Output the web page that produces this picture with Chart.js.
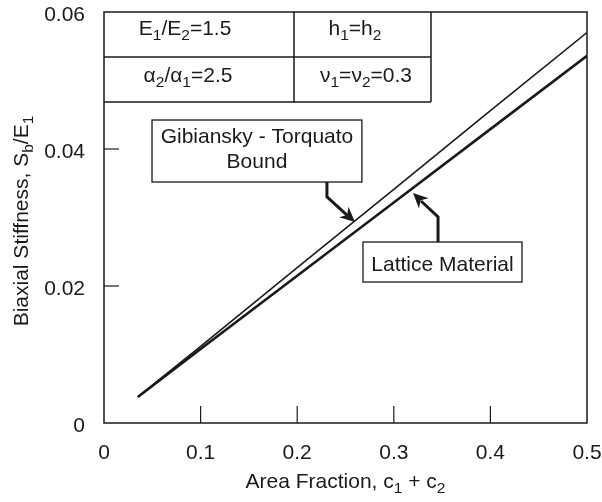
<!DOCTYPE html>
<html>
<head>
<meta charset="utf-8">
<script src="https://cdn.jsdelivr.net/npm/chart.js@4/dist/chart.umd.min.js"></script>
<style>
  body { margin: 0; background: #fff; }
  #wrap { width: 602px; height: 502px; }
</style>
</head>
<body>
<div id="wrap"><canvas id="stiffChart" width="602" height="502"></canvas></div>
<script>
// values
const areaFraction = [0.035, 0.1, 0.2, 0.3, 0.4, 0.5];
const boundStiffness = [0.0038, 0.0112, 0.0227, 0.0341, 0.0456, 0.0570];
const latticeStiffness = [0.0038, 0.0108, 0.0215, 0.0322, 0.0429, 0.0536];
const xTickValues = [0, 0.1, 0.2, 0.3, 0.4, 0.5];
const yTickValues = [0, 0.02, 0.04, 0.06];
const xInnerTicks = [0.1, 0.2, 0.3, 0.4];
const yInnerTicks = [0.02, 0.04];

const FONT = '"Liberation Sans", Arial, Helvetica, sans-serif';
const INK = '#1a1a1a';

// text with subscripts: parts = [[text, isSub], ...]
function richWidth(ctx, parts, size) {
  let w = 0;
  parts.forEach(p => {
    ctx.font = (p[1] ? size * 0.74 : size) + 'px ' + FONT;
    w += ctx.measureText(p[0]).width;
  });
  return w;
}
function drawRich(ctx, parts, x, y, size) {
  // x,y = centre of the line
  let cx = x - richWidth(ctx, parts, size) / 2;
  ctx.textBaseline = 'middle';
  ctx.textAlign = 'left';
  parts.forEach(p => {
    ctx.font = (p[1] ? size * 0.74 : size) + 'px ' + FONT;
    ctx.fillText(p[0], cx, p[1] ? y + size * 0.3 : y);
    cx += ctx.measureText(p[0]).width;
  });
}

function arrowHead(ctx, fx, fy, tx, ty) {
  const a = Math.atan2(ty - fy, tx - fx);
  const len = 15, half = 7;
  ctx.save();
  ctx.translate(tx, ty);
  ctx.rotate(a);
  ctx.beginPath();
  ctx.moveTo(0, 0);
  ctx.lineTo(-len, -half);
  ctx.lineTo(-len * 0.7, 0);
  ctx.lineTo(-len, half);
  ctx.closePath();
  ctx.fill();
  ctx.restore();
}

const fmt = v => (Math.abs(v) < 1e-9 ? '0' : String(+v.toFixed(2)));

const decorPlugin = {
  id: 'decor',
  afterDraw(chart) {
    const ctx = chart.ctx;
    const xs = chart.scales.x, ys = chart.scales.y;
    const area = chart.chartArea;
    const px = v => xs.getPixelForValue(v);
    const py = v => ys.getPixelForValue(v);
    ctx.save();
    ctx.strokeStyle = INK;
    ctx.fillStyle = INK;

    // frame
    ctx.lineWidth = 1.5;
    ctx.strokeRect(area.left, area.top, area.right - area.left, area.bottom - area.top);

    // inward ticks
    ctx.lineWidth = 1.2;
    xInnerTicks.forEach(v => {
      ctx.beginPath();
      ctx.moveTo(px(v), area.bottom);
      ctx.lineTo(px(v), area.bottom - 17);
      ctx.stroke();
    });
    yInnerTicks.forEach(v => {
      ctx.beginPath();
      ctx.moveTo(area.left, py(v));
      ctx.lineTo(area.left + 15, py(v));
      ctx.stroke();
    });

    // tick labels
    const fs = 21;
    ctx.font = fs + 'px ' + FONT;
    ctx.textBaseline = 'middle';
    ctx.textAlign = 'center';
    xTickValues.forEach(v => ctx.fillText(fmt(v), px(v), area.bottom + 30));
    ctx.textAlign = 'right';
    yTickValues.forEach(v => ctx.fillText(fmt(v), area.left - 19, py(v) + 3));

    // parameter table
    const tL = area.left, tR = px(0.3385), tM = px(0.1967);
    const r0 = area.top, r1 = area.top + 45, r2 = area.top + 90;
    ctx.lineWidth = 1.5;
    ctx.beginPath();
    ctx.moveTo(tL, r1); ctx.lineTo(tR, r1);
    ctx.moveTo(tL, r2); ctx.lineTo(tR, r2);
    ctx.moveTo(tM, r0); ctx.lineTo(tM, r2);
    ctx.moveTo(tR, r0); ctx.lineTo(tR, r2);
    ctx.stroke();
    drawRich(ctx, [['E', 0], ['1', 1], ['/E', 0], ['2', 1], ['=1.5', 0]], px(0.0839), r0 + 17, fs);
    drawRich(ctx, [['h', 0], ['1', 1], ['=h', 0], ['2', 1]], px(0.2598), r0 + 17, fs);
    drawRich(ctx, [['\u03b1', 0], ['2', 1], ['/\u03b1', 0], ['1', 1], ['=2.5', 0]], px(0.087), r1 + 19, fs);
    drawRich(ctx, [['\u03bd', 0], ['1', 1], ['=\u03bd', 0], ['2', 1], ['=0.3', 0]], px(0.2712), r1 + 19, fs);

    // label boxes
    ctx.lineWidth = 1.3;
    const gb = { l: px(0.0497), r: px(0.267), t: py(0.04423), b: py(0.03518) };
    ctx.fillStyle = '#fff';
    ctx.fillRect(gb.l, gb.t, gb.r - gb.l, gb.b - gb.t);
    ctx.strokeRect(gb.l, gb.t, gb.r - gb.l, gb.b - gb.t);
    const lb = { l: px(0.2681), r: px(0.4327), t: py(0.02642), b: py(0.02058) };
    ctx.fillRect(lb.l, lb.t, lb.r - lb.l, lb.b - lb.t);
    ctx.strokeRect(lb.l, lb.t, lb.r - lb.l, lb.b - lb.t);
    ctx.fillStyle = INK;
    ctx.font = fs + 'px ' + FONT;
    ctx.textAlign = 'center';
    ctx.textBaseline = 'middle';
    ctx.fillText('Gibiansky - Torquato', (gb.l + gb.r) / 2, gb.t + 17);
    ctx.fillText('Bound', (gb.l + gb.r) / 2, gb.t + 42);
    ctx.fillText('Lattice Material', (lb.l + lb.r) / 2, (lb.t + lb.b) / 2 + 3);

    // pointer arrows
    ctx.lineWidth = 3;
    ctx.lineJoin = 'miter';
    let ax = px(0.2308), bendY = py(0.0330), tx = px(0.2598), ty = py(0.02934);
    ctx.beginPath();
    ctx.moveTo(ax, gb.b); ctx.lineTo(ax, bendY); ctx.lineTo(tx - 8, ty - 7);
    ctx.stroke();
    arrowHead(ctx, ax, bendY, tx, ty);
    ax = px(0.3458); bendY = py(0.03007); tx = px(0.3199); ty = py(0.03358);
    ctx.beginPath();
    ctx.moveTo(ax, lb.t); ctx.lineTo(ax, bendY); ctx.lineTo(tx + 8, ty + 8);
    ctx.stroke();
    arrowHead(ctx, ax, bendY, tx, ty);

    // axis titles
    const ts = 21;
    drawRich(ctx, [['Area Fraction, c', 0], ['1', 1], [' + c', 0], ['2', 1]], (area.left + area.right) / 2, 482, ts);
    ctx.save();
    ctx.translate(22, 221);
    ctx.rotate(-Math.PI / 2);
    drawRich(ctx, [['Biaxial Stiffness, S', 0], ['b', 1], ['/E', 0], ['1', 1]], 0, 0, ts);
    ctx.restore();

    ctx.restore();
  }
};

new Chart(document.getElementById('stiffChart'), {
  type: 'scatter',
  data: {
    datasets: [
      {
        label: 'Gibiansky - Torquato Bound',
        data: areaFraction.map((x, i) => ({ x: x, y: boundStiffness[i] })),
        showLine: true,
        borderColor: INK,
        borderWidth: 1.6,
        pointRadius: 0,
        tension: 0
      },
      {
        label: 'Lattice Material',
        data: areaFraction.map((x, i) => ({ x: x, y: latticeStiffness[i] })),
        showLine: true,
        borderColor: INK,
        borderWidth: 2.6,
        pointRadius: 0,
        tension: 0
      }
    ]
  },
  options: {
    responsive: false,
    animation: false,
    layout: { padding: { top: 12, right: 15, left: 0, bottom: 0 } },
    plugins: { legend: { display: false }, tooltip: { enabled: false } },
    scales: {
      x: {
        type: 'linear',
        min: 0, max: 0.5,
        afterBuildTicks: s => { s.ticks = xTickValues.map(v => ({ value: v })); },
        afterFit: s => { s.height = 79; },
        grid: { display: false, drawTicks: false },
        border: { display: false },
        ticks: { display: false }
      },
      y: {
        type: 'linear',
        min: 0, max: 0.06,
        afterBuildTicks: s => { s.ticks = yTickValues.map(v => ({ value: v })); },
        afterFit: s => { s.width = 104; },
        grid: { display: false, drawTicks: false },
        border: { display: false },
        ticks: { display: false }
      }
    }
  },
  plugins: [decorPlugin]
});
</script>
</body>
</html>
